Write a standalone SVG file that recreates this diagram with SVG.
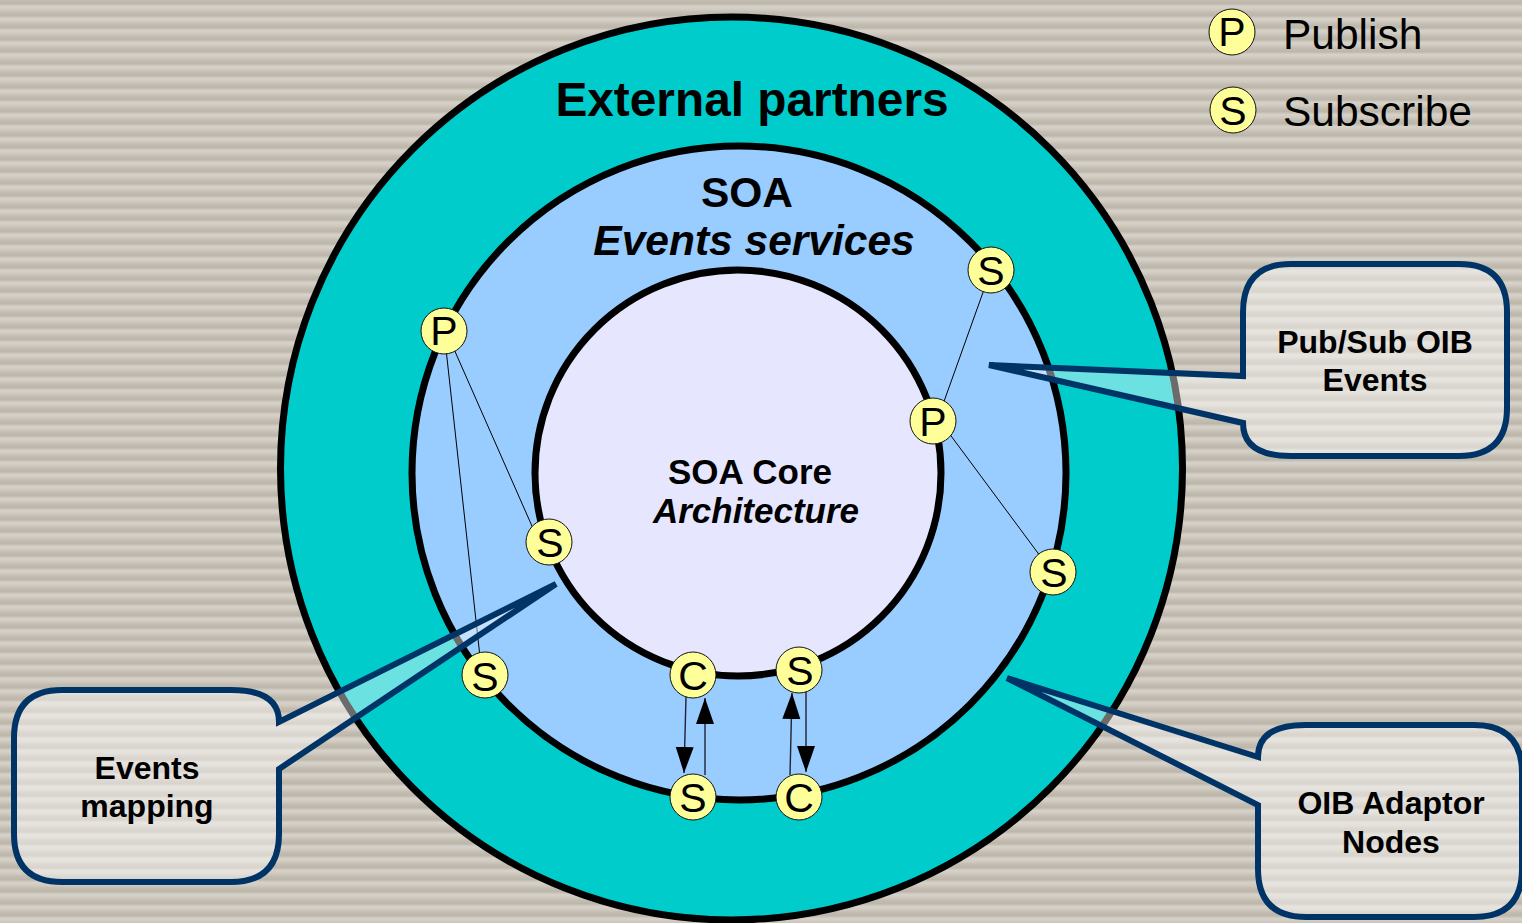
<svg xmlns="http://www.w3.org/2000/svg" width="1522" height="923" viewBox="0 0 1522 923">
<defs>
<linearGradient id="stripe" x1="0" y1="0" x2="0" y2="1">
<stop offset="0" stop-color="#c4bdb2"/><stop offset="0.3" stop-color="#bdb6aa"/><stop offset="0.55" stop-color="#d6d2ca"/><stop offset="0.8" stop-color="#d0cac1"/><stop offset="1" stop-color="#c4bdb2"/>
</linearGradient>
<pattern id="bg" width="1522" height="12" patternUnits="userSpaceOnUse"><rect width="1522" height="12" fill="url(#stripe)"/></pattern>
<marker id="arr" markerUnits="userSpaceOnUse" markerWidth="27" markerHeight="20" refX="26" refY="9" orient="auto"><path d="M0 0L26 9L0 18Z" fill="#000"/></marker>
</defs>
<style>
text{font-family:"Liberation Sans",Arial,sans-serif;fill:#000;text-anchor:middle}
.b{font-weight:700}.i{font-weight:700;font-style:italic}
.ring{stroke:#000;stroke-width:7}
.nc{fill:#ffff99;stroke:#111;stroke-width:1}
.nt{font-size:41px}
.leg{font-size:42.500px;text-anchor:start}
.lab{font-size:32px;font-weight:700}
.co{fill:#fff;fill-opacity:.42;stroke:#003366;stroke-width:6;stroke-linejoin:miter}
.ln{stroke:#000;stroke-width:1;fill:none}
.ar{stroke:#223;stroke-width:1.400;fill:none;marker-end:url(#arr)}
</style>
<rect width="1522" height="923" fill="url(#bg)"/>
<g id="rings">
<ellipse class="ring" cx="731.500" cy="468.500" rx="451" ry="451.500" fill="#00cccc"/>
<circle class="ring" cx="739" cy="473" r="327" fill="#99ccff"/>
<circle class="ring" cx="738" cy="473" r="203" fill="#e6e6ff"/>
</g>
<g id="titles">
<text class="b" x="752" y="116" font-size="47.800">External partners</text>
<text class="b" x="747" y="207" font-size="42.500">SOA</text>
<text class="i" x="754" y="255" font-size="42.500">Events services</text>
<text class="b" x="750" y="484" font-size="35">SOA Core</text>
<text class="i" x="756" y="523" font-size="35">Architecture</text>
</g>
<g id="connectors">
<path class="ln" d="M444 331L482 675M446 331L539 542M991 270L937 421M940 421L1052 572"/>
<path class="ar" d="M686 697L684 773"/>
<path class="ar" d="M705 775L705 698"/>
<path class="ar" d="M790 775L792 693"/>
<path class="ar" d="M806 692L806 772"/>
</g>
<g id="legend-publish"><circle class="nc" cx="1232" cy="32" r="23"/><text class="nt" x="1232" y="46">P</text><text class="leg" x="1283" y="49">Publish</text></g>
<g id="legend-subscribe"><circle class="nc" cx="1233" cy="110" r="23"/><text class="nt" x="1233" y="125">S</text><text class="leg" x="1283" y="126">Subscribe</text></g>
<g id="node-p1"><circle class="nc" cx="444" cy="331" r="23"/><text class="nt" x="444" y="345">P</text></g>
<g id="node-s1"><circle class="nc" cx="991" cy="270" r="23"/><text class="nt" x="991" y="285">S</text></g>
<g id="node-p2"><circle class="nc" cx="933" cy="421" r="23"/><text class="nt" x="933" y="436">P</text></g>
<g id="node-s2"><circle class="nc" cx="1053" cy="572" r="23"/><text class="nt" x="1054" y="587">S</text></g>
<g id="node-s3"><circle class="nc" cx="549" cy="542" r="23"/><text class="nt" x="550" y="557">S</text></g>
<g id="node-s4"><circle class="nc" cx="485" cy="675" r="23"/><text class="nt" x="485" y="691">S</text></g>
<g id="node-c1"><circle class="nc" cx="693" cy="675" r="23"/><text class="nt" x="693" y="690">C</text></g>
<g id="node-s5"><circle class="nc" cx="799" cy="670" r="23"/><text class="nt" x="800" y="685">S</text></g>
<g id="node-s6"><circle class="nc" cx="693" cy="797" r="23"/><text class="nt" x="693" y="812">S</text></g>
<g id="node-c2"><circle class="nc" cx="799" cy="797" r="23"/><text class="nt" x="799" y="812">C</text></g>
<g id="callout-pubsub">
<path class="co" d="M1291 264H1459Q1507 264 1507 312V408Q1507 456 1459 456H1291Q1243 456 1243 423L989 365L1243 376V312Q1243 264 1291 264Z"/>
<text class="lab" x="1375" y="353">Pub/Sub OIB</text><text class="lab" x="1375" y="391">Events</text>
</g>
<g id="callout-mapping">
<path class="co" d="M62 690H231Q279 690 279 722L556 584L279 769V834Q279 882 231 882H62Q14 882 14 834V738Q14 690 62 690Z"/>
<text class="lab" x="147" y="779">Events</text><text class="lab" x="147" y="817">mapping</text>
</g>
<g id="callout-oib">
<path class="co" d="M1306 725H1474Q1522 725 1522 773V869Q1522 917 1474 917H1306Q1258 917 1258 869V805L1007 678L1258 757Q1258 725 1306 725Z"/>
<text class="lab" x="1391" y="814">OIB Adaptor</text><text class="lab" x="1391" y="853">Nodes</text>
</g>
</svg>
